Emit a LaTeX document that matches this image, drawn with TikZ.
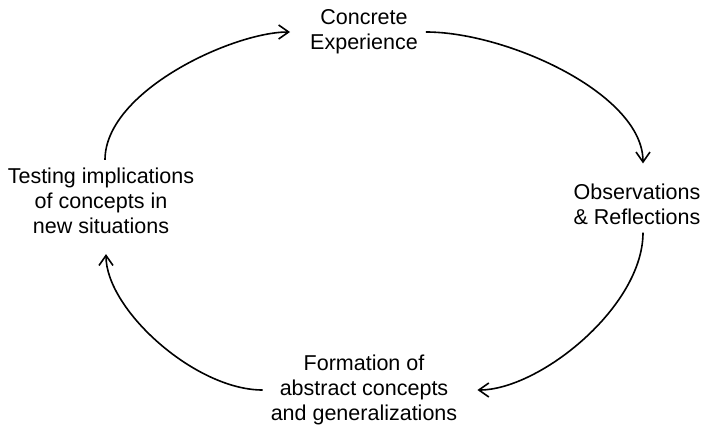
\documentclass[tikz,border=0pt]{standalone}
\usepackage{fontspec}
\setmainfont{Liberation Sans}
\usepackage{tikz}
\usetikzlibrary{arrows.meta}
\tikzstyle{stage}=[align=center,inner sep=8pt,font=\fontsize{21.5}{25}\selectfont]
\tikzstyle{cyc}=[line width=1.6pt,-{Straight Barb[length=10pt,width=14pt]},shorten >=12pt]

\begin{document}
\begin{tikzpicture}[x=1pt,y=1pt]
	\useasboundingbox (0,0) rectangle (706,429);
	\node[stage] (concrete) at (364,397) {Concrete\\Experience};
	\node[stage] (observe)  at (637,225) {Observations\\\& Reflections};
	\node[stage] (abstract) at (364,39)  {Formation of\\abstract concepts\\and generalizations};
	\node[stage] (testing)  at (101,228) {Testing implications\\of concepts in\\new situations};
	\draw[cyc] ([xshift=4pt]testing.north) to[out=90,in=180,looseness=.75] (concrete.west);
	\draw[cyc] (concrete.east) to[out=0,in=90,looseness=.8] ([xshift=6pt]observe.north);
	\draw[cyc] ([xshift=6pt]observe.south) to[out=-90,in=0,looseness=.8] (abstract.east);
	\draw[cyc] (abstract.west) to[out=180,in=-90,looseness=.8] ([xshift=5pt]testing.south);
\end{tikzpicture}
\end{document}
